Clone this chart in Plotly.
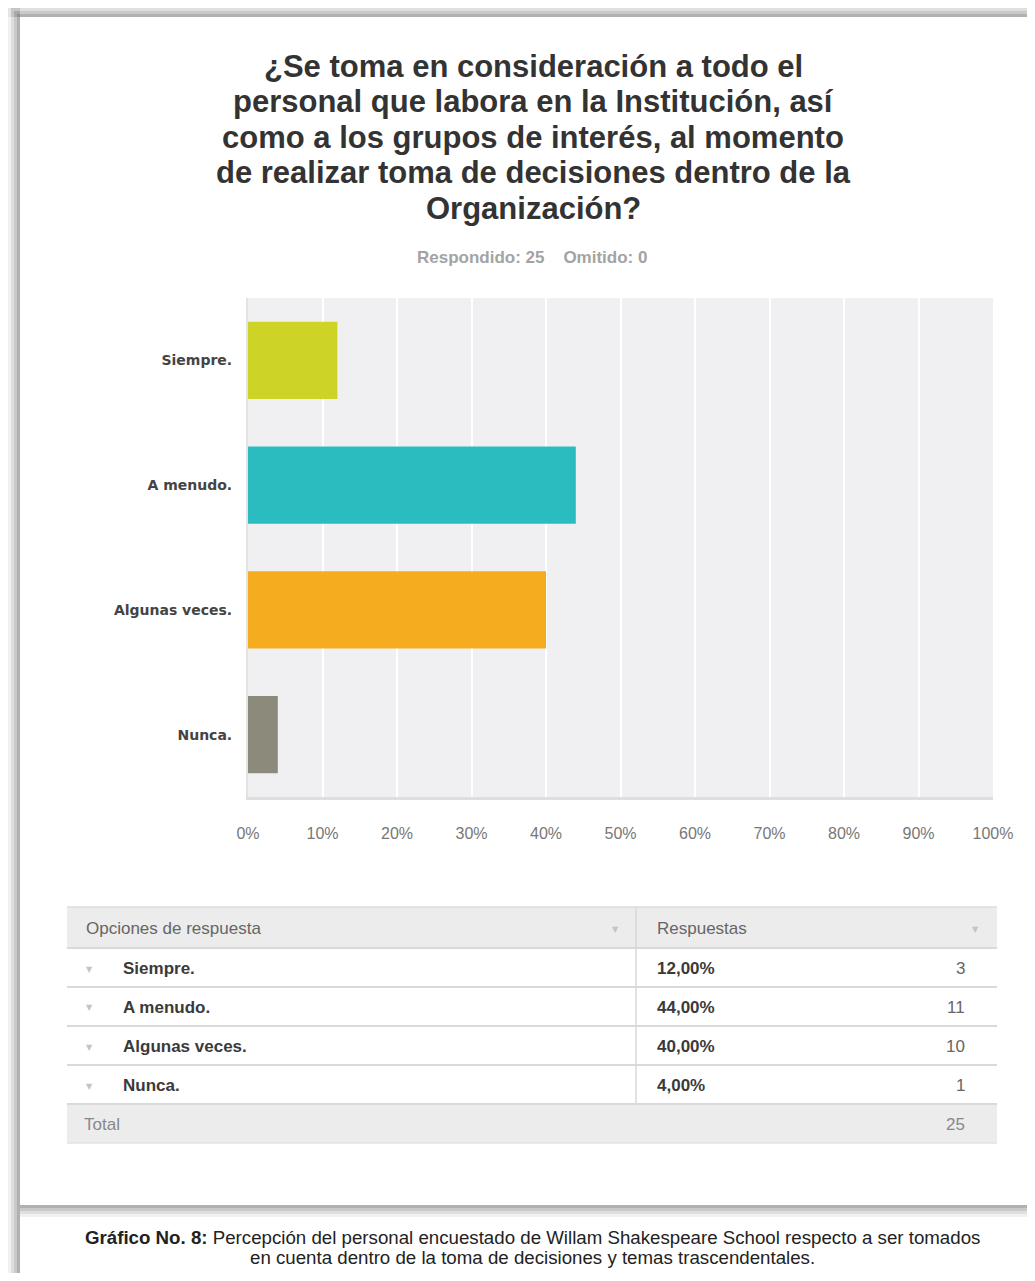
import plotly.graph_objects as go

# datos de la encuesta
opciones = ["Siempre.", "A menudo.", "Algunas veces.", "Nunca."]
porcentajes = [12, 44, 40, 4]
respuestas = [3, 11, 10, 1]
colores = ["#cdd425", "#2bbcbf", "#f5ad1f", "#8b8a7b"]
ticks_x = [0, 10, 20, 30, 40, 50, 60, 70, 80, 90, 100]
ticks_txt = [f"{t}%" for t in ticks_x]

titulo = ["¿Se toma en consideración a todo el",
          "personal que labora en la Institución, así",
          "como a los grupos de interés, al momento",
          "de realizar toma de decisiones dentro de la",
          "Organización?"]
subtitulo = "Respondido: 25&nbsp;&nbsp;&nbsp;&nbsp;Omitido: 0"
pie = ["<b>Gráfico No. 8:</b> Percepción del personal encuestado de Willam Shakespeare School respecto a ser tomados",
       "en cuenta dentro de la toma de decisiones y temas trascendentales."]

# la página pone el gráfico 8px adentro (margen del body)
OFF = 8
W, H = 1035 - 2 * OFF, 1281 - 2 * OFF
L, T = 248 - OFF, 298 - OFF
R, B = W - (993 - OFF), H - (797 - OFF)
PW, PH = W - L - R, H - T - B


def fx(p):
    return (p - OFF - L) / PW


def fy(p):
    return (T + PH - (p - OFF)) / PH


fig = go.Figure()
fig.add_trace(go.Bar(
    x=porcentajes, y=opciones, orientation="h",
    marker=dict(color=colores, line=dict(width=0)),
    width=0.62, hoverinfo="x+y", showlegend=False
))

shapes = []
# sombra del marco
for i, op in enumerate([0.10, 0.15, 0.22, 0.30]):
    shapes.append(dict(type="rect", xref="paper", yref="paper",
                       x0=fx(8 + i * 3), x1=fx(1040), y0=fy(5 + i * 3), y1=fy(17),
                       fillcolor="#7a7a7a", opacity=op, line_width=0, layer="below"))
    shapes.append(dict(type="rect", xref="paper", yref="paper",
                       x0=fx(8 + i * 3), x1=fx(20), y0=fy(5 + i * 3), y1=fy(1290),
                       fillcolor="#7a7a7a", opacity=op, line_width=0, layer="below"))
    shapes.append(dict(type="rect", xref="paper", yref="paper",
                       x0=fx(20), x1=fx(1040), y0=fy(1205), y1=fy(1217 - i * 3),
                       fillcolor="#7a7a7a", opacity=op, line_width=0, layer="below"))

# tabla
tx0, tx1, tcol = 67, 997, 636
filas_y = [948, 987, 1026, 1065, 1104]
shapes.append(dict(type="rect", xref="paper", yref="paper", x0=fx(tx0), x1=fx(tx1),
                   y0=fy(907), y1=fy(948), fillcolor="#ececec", line_width=0))
shapes.append(dict(type="rect", xref="paper", yref="paper", x0=fx(tx0), x1=fx(tx1),
                   y0=fy(1104), y1=fy(1143), fillcolor="#ececec", line_width=0))
shapes.append(dict(type="line", xref="paper", yref="paper", x0=fx(tx0), x1=fx(tx1),
                   y0=fy(907), y1=fy(907), line=dict(color="#dcdcdc", width=1.5)))
shapes.append(dict(type="line", xref="paper", yref="paper", x0=fx(tx0), x1=fx(tx1),
                   y0=fy(1143), y1=fy(1143), line=dict(color="#e2e2e2", width=1.5)))
for yy in filas_y:
    shapes.append(dict(type="line", xref="paper", yref="paper", x0=fx(tx0), x1=fx(tx1),
                       y0=fy(yy), y1=fy(yy), line=dict(color="#d9d9d9", width=2)))
shapes.append(dict(type="line", xref="paper", yref="paper", x0=fx(tcol), x1=fx(tcol),
                   y0=fy(907), y1=fy(1104), line=dict(color="#d9d9d9", width=1.5)))

anns = []
fuente = "Liberation Sans, Arial, sans-serif"


def texto(t, x, y, size, color, xanchor="left", family=fuente):
    anns.append(dict(text=t, xref="paper", yref="paper", x=fx(x), y=fy(y),
                     xanchor=xanchor, yanchor="middle", showarrow=False,
                     font=dict(family=family, size=size, color=color)))


for i, linea in enumerate(titulo):
    texto("<b>" + linea + "</b>", 533, 66 + i * 35.5, 31, "#333333", "center")
texto("<b>" + subtitulo + "</b>", 532, 257, 17, "#a3a3a3", "center")

# encabezado de tabla
texto("Opciones de respuesta", 84, 928, 17, "#666666")
texto("Respuestas", 655, 928, 17, "#666666")
for xx in [615, 975]:
    texto("▼", xx, 929, 8, "#c4c4c4", "center", "DejaVu Sans")

centros = [968, 1007, 1046, 1085]
for op, pc, n, cy in zip(opciones, porcentajes, respuestas, centros):
    texto("▼", 89, cy + 1, 8, "#c4c4c4", "center", "DejaVu Sans")
    texto("<b>" + op + "</b>", 121, cy, 17, "#3a3a3a")
    texto("<b>" + f"{pc:.2f}".replace(".", ",") + "%</b>", 655, cy, 17, "#3a3a3a")
    texto(str(n), 967, cy, 17, "#666666", "right")

texto("Total", 82, 1124, 17, "#888888")
texto(str(sum(respuestas)), 967, 1124, 17, "#888888", "right")

for i, linea in enumerate(pie):
    texto(linea, 532, 1237 + i * 20, 18.7, "#222222", "center")

fig.update_layout(
    width=W, height=H,
    margin=dict(l=L, r=R, t=T, b=B, pad=0),
    paper_bgcolor="white", plot_bgcolor="#f0f0f2",
    shapes=shapes, annotations=anns,
    xaxis=dict(range=[0, 100], tickvals=ticks_x, ticktext=ticks_txt,
               showgrid=True, gridcolor="white", gridwidth=2, zeroline=False,
               showline=True, linecolor="#dedede", linewidth=3,
               ticks="", ticklabelstandoff=20,
               tickfont=dict(family=fuente, size=16, color="#777777"), fixedrange=True),
    yaxis=dict(categoryorder="array", categoryarray=opciones, autorange="reversed",
               tickvals=opciones, ticktext=["<b>" + o + "</b>" for o in opciones],
               showgrid=False, zeroline=False, showline=True, linecolor="#e2e2e2", linewidth=2,
               ticks="", ticklabelstandoff=11,
               tickfont=dict(family="DejaVu Sans", size=14, color="#444444"), fixedrange=True),
)

fig.write_html("out.html")
